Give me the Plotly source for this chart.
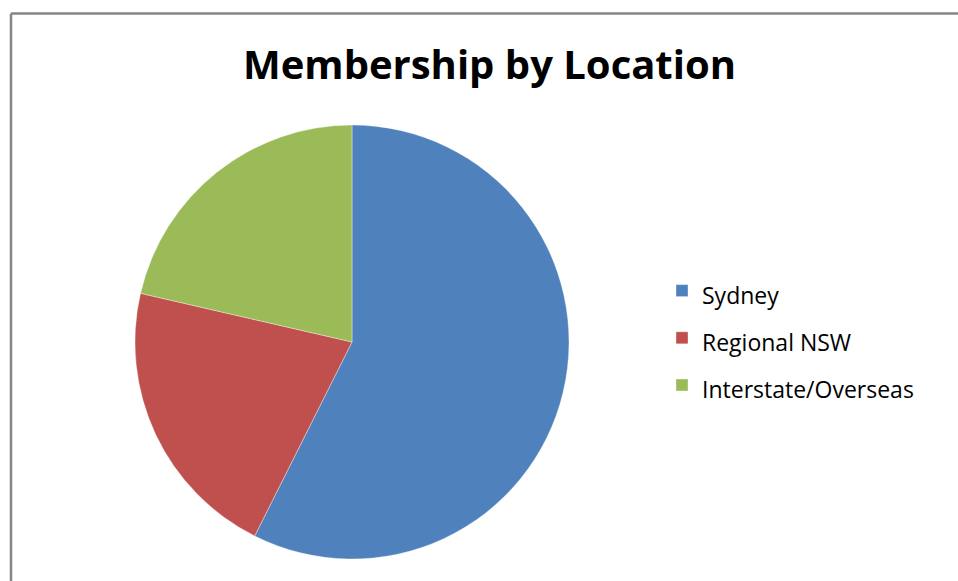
import plotly.graph_objects as go

labels = ["Sydney", "Regional NSW", "Interstate/Overseas"]
values = [57.4, 21.2, 21.4]
colors = ["#4F81BD", "#C0504D", "#9BBB59"]

W, H = 958, 581
cx, cy, r = 352, 342, 217

legend_labels = [f"<span style='font-size:23px'>{l}</span>" for l in labels]

fig = go.Figure(go.Pie(
    labels=legend_labels,
    values=values,
    sort=False,
    direction="clockwise",
    rotation=0,
    marker=dict(colors=colors, line=dict(color="rgba(255,255,255,0.6)", width=0.6)),
    textinfo="none",
    hoverinfo="label+percent",
    domain=dict(x=[(cx - r) / W, (cx + r) / W], y=[(H - cy - r) / H, (H - cy + r) / H]),
))

fx, fy = 11 / W, 1 - 13.5 / H
frame = dict(color="#868686", width=2.5)

fig.update_layout(
    width=W, height=H,
    margin=dict(l=0, r=0, t=0, b=0),
    paper_bgcolor="white",
    font=dict(family="Open Sans", color="black"),
    title=dict(
        text="<b>Membership by Location</b>",
        font=dict(family="Open Sans", size=40, color="black"),
        x=489.5 / W, xanchor="center",
        y=1 - 65 / H, yanchor="middle", yref="container",
    ),
    showlegend=True,
    legend=dict(
        x=662 / W, xanchor="left",
        y=1 - 338 / H, yanchor="middle",
        font=dict(size=34, family="Open Sans", color="black"),
        bgcolor="rgba(0,0,0,0)",
    ),
    shapes=[
        dict(type="line", xref="paper", yref="paper", x0=fx, x1=1.0, y0=fy, y1=fy, line=frame),
        dict(type="line", xref="paper", yref="paper", x0=fx, x1=fx, y0=0.0, y1=fy, line=frame),
    ],
)

fig.write_html(
    "out.html",
    config={"displayModeBar": False},
    post_script=(
        "document.body.style.margin='0';"
        "document.body.style.overflow='hidden';"
        "document.documentElement.style.overflow='hidden';"
    ),
)
